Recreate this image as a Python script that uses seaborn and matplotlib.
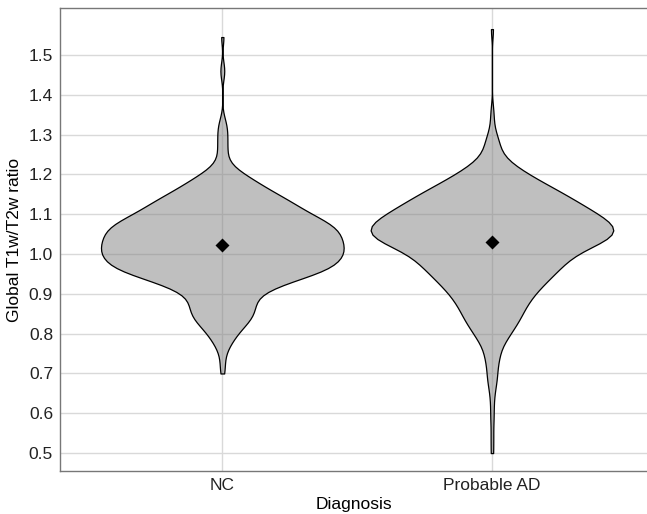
import numpy as np
import pandas as pd
import matplotlib
matplotlib.use("Agg")
import matplotlib.pyplot as plt
import seaborn as sns

# T1w/T2w ratio levels and how many subjects fall on each level
nc_values = [0.70, 0.72, 0.74, 0.76, 0.78, 0.80, 0.82, 0.84, 0.86, 0.88,
             0.90, 0.92, 0.94, 0.96, 0.98, 1.00, 1.02, 1.04, 1.06, 1.08,
             1.10, 1.12, 1.14, 1.16, 1.18, 1.20, 1.22, 1.24, 1.26, 1.28,
             1.30, 1.32, 1.34, 1.45, 1.47, 1.545]
nc_counts = [1, 1, 1, 2, 4, 6, 9, 12, 13, 13,
             15, 22, 32, 42, 46, 48, 48, 47, 46, 42,
             35, 30, 25, 19, 14, 9, 4, 2, 2, 2,
             2, 2, 1, 1, 1, 1]

ad_values = [0.50, 0.54, 0.58, 0.61, 0.64, 0.66, 0.68, 0.70, 0.72, 0.74,
             0.76, 0.78, 0.80, 0.82, 0.84, 0.86, 0.88, 0.90, 0.92, 0.94,
             0.96, 0.98, 1.00, 1.02, 1.04, 1.06, 1.08, 1.10, 1.12, 1.14,
             1.16, 1.18, 1.20, 1.22, 1.24, 1.26, 1.28, 1.30, 1.33, 1.36,
             1.565]
ad_counts = [1, 1, 1, 1, 1, 1, 2, 2, 2, 3,
             3, 5, 7, 9, 11, 12, 14, 16, 19, 22,
             25, 28, 31, 38, 46, 48, 45, 40, 35, 30,
             25, 19, 14, 9, 5, 3, 3, 2, 1, 1,
             1]

groups = ["NC", "Probable AD"]
y_ticks = [0.5, 0.6, 0.7, 0.8, 0.9, 1.0, 1.1, 1.2, 1.3, 1.4, 1.5]

df = pd.DataFrame({
    "Diagnosis": ["NC"] * sum(nc_counts) + ["Probable AD"] * sum(ad_counts),
    "ratio": np.concatenate([np.repeat(nc_values, nc_counts),
                             np.repeat(ad_values, ad_counts)]),
})

sns.set_theme(style="whitegrid")
plt.rcParams["font.family"] = ["Liberation Sans", "DejaVu Sans"]

fig = plt.figure(figsize=(6.47, 5.14), dpi=100)
ax = fig.add_axes([60 / 647, 43 / 514, 587 / 647, 463 / 514])

sns.violinplot(data=df, x="Diagnosis", y="ratio", order=groups, ax=ax,
               inner=None, cut=0, density_norm="width", width=0.9,
               bw_method=0.17, color="gray", linecolor="black",
               linewidth=0.9, saturation=1)
# semi-transparent fill so the grid shows through, like the original
for coll in ax.collections:
    coll.set_facecolor((0.5, 0.5, 0.5, 0.5))
    coll.set_edgecolor("black")

sns.pointplot(data=df, x="Diagnosis", y="ratio", order=groups, ax=ax,
              estimator="mean", errorbar=None, linestyle="none",
              marker="D", markersize=5, color="black")

ax.set_xlim(-0.602, 1.575)
ax.set_ylim(0.455, 1.618)
ax.set_yticks(y_ticks)
ax.set_yticklabels([f"{t:.1f}" for t in y_ticks])
ax.grid(True, color="#d9d9d9", linewidth=1.0)
ax.set_axisbelow(True)
for side in ["left", "bottom", "top"]:
    ax.spines[side].set_color("#777777")
    ax.spines[side].set_linewidth(1.0)
ax.spines["right"].set_visible(False)
ax.tick_params(axis="both", length=3, width=0.8, color="#777777",
               labelsize=12.5, labelcolor="#222222", pad=2)
ax.set_xlabel("Diagnosis", fontsize=12.5, color="black", labelpad=3)
ax.set_ylabel("Global T1w/T2w ratio", fontsize=12.5, color="black", labelpad=5)

fig.savefig("out.png", dpi=100)
